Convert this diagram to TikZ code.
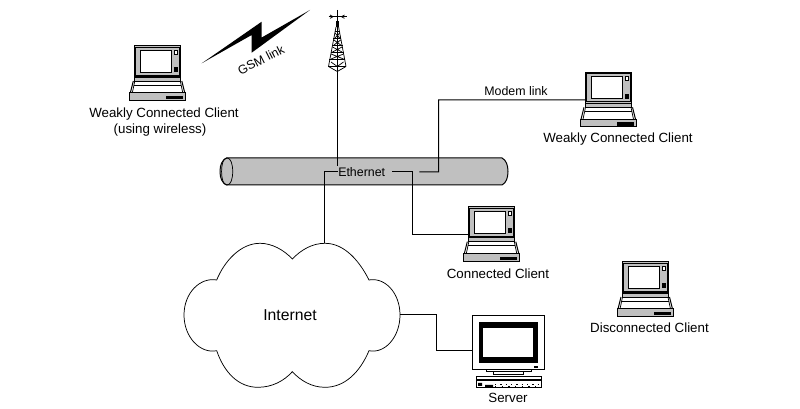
\documentclass[tikz,border=0pt]{standalone}
\usepackage{fontspec}
\setmainfont{Liberation Sans}
\definecolor{midgray}{HTML}{C0C0C0}
\tikzset{
  x=0.75pt,y=-0.75pt,
  line/.style={draw=black,line width=0.75pt},
  thin line/.style={draw=black,line width=0.55pt},
  label text/.style={font=\fontsize{10}{12}\selectfont,inner sep=0pt,align=center},
  small text/.style={font=\fontsize{9.3}{11}\selectfont,inner sep=0pt},
  laptop/.pic={
    \coordinate (-hook) at (0,27.7);
    \fill[white] (-1.5,35) -- (-4,47) -- (50.5,47) -- (48,35) -- cycle;
    \draw[line,fill=midgray] (0,0) rectangle (46.5,31);
    \draw[thin line] (1.5,1.5) rectangle (45,29.5);
    \draw[line,fill=white] (6,4.7) rectangle (37.5,26.5);
    \draw[thin line,fill=white] (40,4.5) rectangle (43.5,8.5);
    \fill (40,21.5) rectangle (44,26.5);
    \draw[thin line,fill=midgray] (0,31) rectangle (46.5,35);
    \draw[line] (-1,35) -- (-4,47) (47.5,35) -- (50.5,47);
    \draw[thin line] (0.5,35) -- (-2,47) (46,35) -- (48.5,47);
    \draw[thin line] (0,39) -- (46.5,39);
    \draw[line,fill=midgray] (-4.5,47) rectangle (51,54.5);
    \fill (31.5,50) rectangle (49,53.5);
  },
}
\begin{document}
\begin{tikzpicture}
\useasboundingbox (0,0) rectangle (800,409);
\fill[white] (0,0) rectangle (800,409);

% Ethernet pipe
\draw[line,fill=midgray] (226.5,158) -- (502,158) .. controls (506,160) and (508,165) .. (508,171.5) .. controls (508,178) and (506,183) .. (502,185) -- (226.5,185) .. controls (222,183) and (220,178) .. (220,171.5) .. controls (220,165) and (222,160) .. (226.5,158) -- cycle;
\draw[thin line] (227,158) .. controls (230.8,158) and (232.7,164) .. (232.7,171.5) .. controls (232.7,179) and (230.8,185) .. (227,185) .. controls (223.2,185) and (221.6,179) .. (221.6,171.5) .. controls (221.6,164) and (223.2,158) .. (227,158) -- cycle;

% Cloud
\draw[thin line,fill=white] (216.7,280) .. controls (224,262) and (240,243.3) .. (260,243.3) .. controls (272,243.3) and (284,250) .. (292.3,259) .. controls (301,250) and (312,243.3) .. (325,243.3) .. controls (345,243.3) and (360,262) .. (369,280) .. controls (385,277) and (400,293) .. (400,315) .. controls (400,337) and (385,354) .. (369,350.7) .. controls (360,372) and (345,387.3) .. (325,387.3) .. controls (312,387.3) and (301,381) .. (292.3,371.7) .. controls (284,381) and (272,387.3) .. (258,387.3) .. controls (238,387.3) and (224,372) .. (216.7,350.7) .. controls (200,354) and (184,337) .. (184,315) .. controls (184,293) and (200,277) .. (216.7,280) -- cycle;
\coordinate (cloudtop) at (324.3,243.3);
\coordinate (cloudright) at (400,315);
\node[font=\fontsize{11.8}{14}\selectfont,inner sep=0pt] (internet) at (290,315) {Internet};

% Laptops
\pic (lapA) at (134.3,46) {laptop};
\pic (lapB) at (585,72.3) {laptop};
\pic (lapC) at (468.3,206.7) {laptop};
\pic (lapD) at (622,262) {laptop};

% Labels
\node[label text] (lapAlabel) at (164,114) {Weakly Connected Client};
\node[label text] (lapAlabelb) at (160,130) {(using wireless)};
\node[label text] (lapBlabel) at (618,139) {Weakly Connected Client};
\node[label text] (lapClabel) at (498,274) {Connected Client};
\node[label text] (lapDlabel) at (649.5,328) {Disconnected Client};
\node[label text] (serverlabel) at (508,398) {Server};
\node[small text] (eth) at (361.7,172) {Ethernet};
\node[small text] (modem) at (516,91.5) {Modem link};
\node[small text,rotate=27] (gsm) at (261,60) {GSM link};

% Lightning
\fill (201.7,63.3) -- (261.7,21.7) -- (261.7,37.5) -- (310,10) -- (251.7,52.7) -- (251.7,35) -- cycle;

% Tower
\coordinate (towerbase) at (337.3,21);
\coordinate (ethtop) at (337.3,166.5);
\draw[line] (337.3,10) -- (337.3,21);
\draw[line] (towerbase) -- (ethtop);
\draw[thin line] (328.5,16.7) -- (346.5,16.7);
\draw[thin line] (330,15) -- (333,16.7) -- (330,18.4) (344.5,15) -- (341.5,16.7) -- (344.5,18.4);
\fill (336,21) rectangle (338.6,27);
\draw[thin line] (336,27) -- (328.5,66.5) (338.6,27) -- (346,66.5);
\foreach \yy/\hw in {31/2.5,38/4,45/5.5,52/6.5,59/8,66.5/9}{
  \draw[thin line] (337.3-\hw,\yy) -- (337.3+\hw,\yy);
}
\draw[thin line] (335,33) -- (339.7,38) (339.7,33) -- (335,38)
  (334,40) -- (340.7,45) (340.7,40) -- (334,45)
  (332.5,47) -- (342,52) (342,47) -- (332.5,52)
  (331,54) -- (343.5,59) (343.5,54) -- (331,59);
\draw[thin line] (328.5,66.5) -- (337.3,71.5) -- (346,66.5);
\draw[thin line] (331,62) -- (337.3,66.5) -- (343.5,62);

% Server
\node[draw=black,line width=0.75pt,fill=white,minimum width=72pt*0.75,minimum height=54.3pt*0.75,inner sep=0pt,anchor=north west] (monitor) at (472.3,315) {};
\fill (479,322.3) rectangle (538.3,363.3);
\fill[white] (483.3,327.7) rectangle (533.3,357.3);
\fill (534,366) rectangle (538.3,368);
\draw[thin line] (486.7,369.3) -- (486.7,371.5) -- (531.7,371.5) -- (531.7,369.3);
\draw[thin line] (493,371.5) -- (493,374.7) -- (523,374.7) -- (523,371.5);
\draw[thin line,fill=white] (476.7,376) rectangle (541,387.3);
\draw[thin line] (476.7,379) -- (541,379);
\fill (476.7,380.5) rectangle (541,381.5);
\fill (478,383) rectangle (482,386) (485,385) rectangle (493,387.3);
\draw[thin line,dash pattern=on 1pt off 3pt] (495,384) -- (540,384);
\draw[thin line,dash pattern=on 1pt off 4pt] (495,386) -- (540,386);

% Connectors
\coordinate (serverjogA) at (436,315);
\coordinate (serverjogB) at (436,351);
\coordinate (monitorhook) at (472.3,351);
\draw[line] (cloudright) -- (serverjogA) -- (serverjogB) -- (monitorhook);

\coordinate (ethleft) at (338,172);
\coordinate (ethleftjog) at (324.3,172);
\draw[line] (ethleft) -- (ethleftjog) -- (cloudtop);

\coordinate (ethright) at (392,172);
\coordinate (ethrightjog) at (412.3,172);
\coordinate (ethrightdown) at (412.3,234.4);
\draw[line] (ethright) -- (ethrightjog) -- (ethrightdown) -- (lapC-hook);

\coordinate (modemstart) at (419.3,172);
\coordinate (modemjog) at (438.7,172);
\coordinate (modemup) at (438.7,100);
\draw[line] (modemstart) -- (modemjog) -- (modemup) -- (lapB-hook);
\end{tikzpicture}
\end{document}
